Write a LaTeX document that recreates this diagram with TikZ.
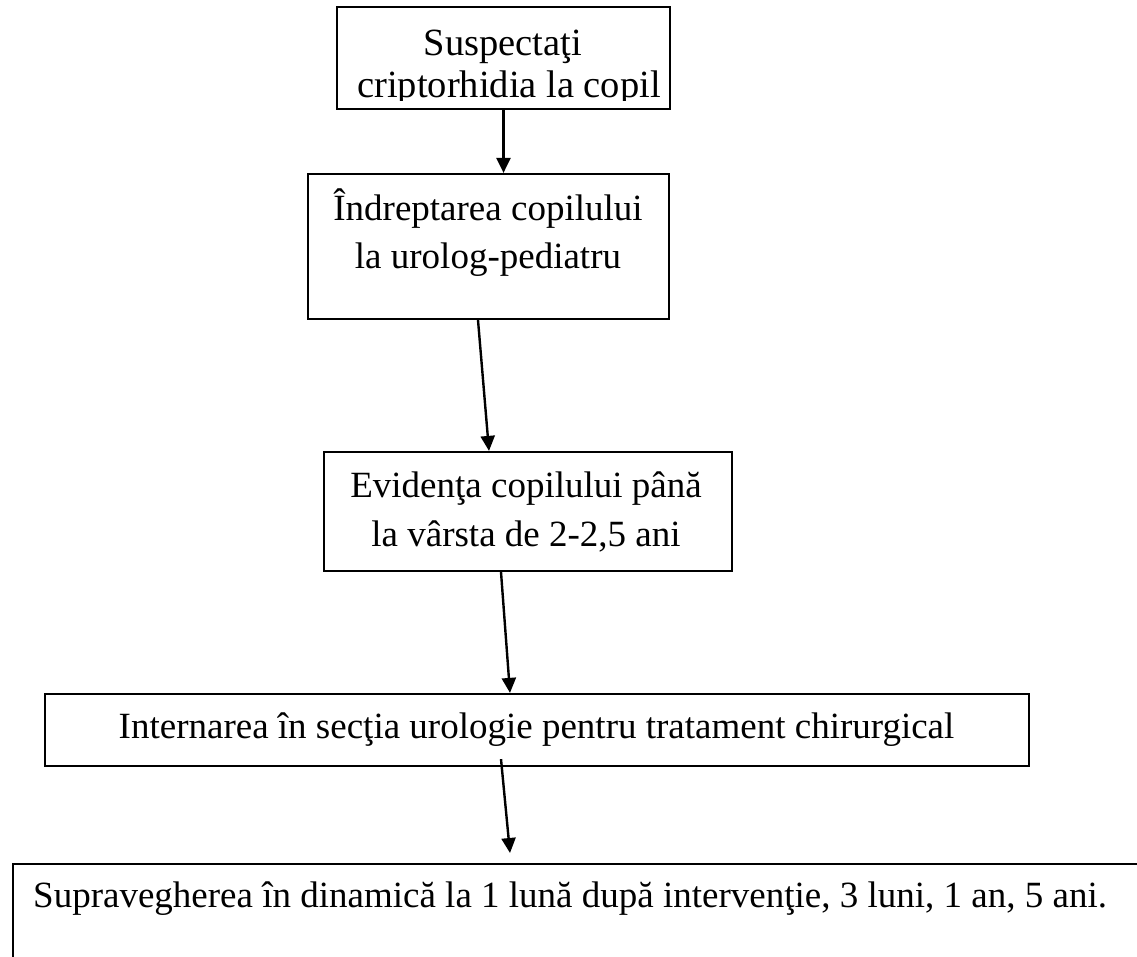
\documentclass[tikz,border=0pt]{standalone}
\usepackage{fontspec}
\setmainfont{Liberation Serif}
\usetikzlibrary{arrows.meta,calc}
\begin{document}
\begin{tikzpicture}[x=1pt,y=-1pt,
  box/.style={draw=black, line width=2.2pt, rectangle, inner sep=0pt},
  lbl/.style={anchor=base, inner sep=0pt, font=\fontsize{37}{48}\selectfont},
  conn/.style={line width=2.4pt, -{Triangle[length=15pt,width=14pt]}}]
\clip (0,0) rectangle (1137,956);
\fill[white] (0,0) rectangle (1137,956);
% boxes
\node[box, minimum width=333pt, minimum height=102pt] (b1) at (503.5,58) {};
\node[box, minimum width=361pt, minimum height=145pt] (b2) at (488.5,246.5) {};
\node[box, minimum width=408pt, minimum height=119pt] (b3) at (528,511.5) {};
\node[box, minimum width=984pt, minimum height=72pt] (b4) at (537,730) {};
\node[box, minimum width=1250pt, minimum height=200pt, anchor=north west] (b5) at (12,863) {};
% texts
\begin{scope}
\clip (337,7) rectangle (670,100);
\node[lbl, font=\fontsize{38.5}{42}\selectfont] (t1a) at (503,55) {Suspectaţi};
\node[lbl, font=\fontsize{38.5}{42}\selectfont] (t1b) at (509,97) {criptorhidia la copil};
\end{scope}
\node[lbl] (t2a) at (488,220) {Îndreptarea copilului};
\node[lbl] (t2b) at (488,268) {la urolog-pediatru};
\node[lbl] (t3a) at (526,497) {Evidenţa copilului până};
\node[lbl] (t3b) at (526,546) {la vârsta de 2-2,5 ani};
\node[lbl] (t4) at (536.5,738) {Internarea în secţia urologie pentru tratament chirurgical};
\node[lbl, anchor=base west] (t5) at (33,907) {Supravegherea în dinamică la 1 lună după intervenţie, 3 luni, 1 an, 5 ani.};
% connector points
\coordinate (s1) at (b1.south);
\coordinate (e1) at (b2.north -| b1.south);
\coordinate (s2) at ($(b2.south)+(-10.5,0)$);
\coordinate (e2) at ($(b3.north)+(-39,0)$);
\coordinate (s3) at ($(b3.south)+(-27,0)$);
\coordinate (e3) at ($(b4.north)+(-27,0)$);
\coordinate (s4) at ($(b4.south)+(-36,-8)$);
\coordinate (e4) at ($(b5.north west)+(498,-10)$);
\draw[conn] (s1) -- (e1);
\draw[conn] (s2) -- (e2);
\draw[conn] (s3) -- (e3);
\draw[conn] (s4) -- (e4);
\end{tikzpicture}
\end{document}
